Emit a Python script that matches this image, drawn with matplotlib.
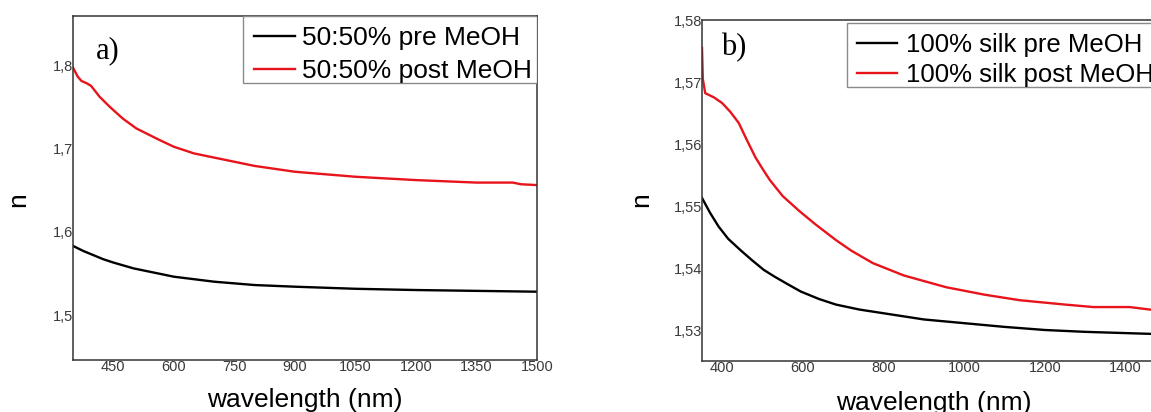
import matplotlib.pyplot as plt
import matplotlib.ticker as mtick
from matplotlib.patches import Rectangle

# panel a) 50:50% blend
wl_a_pre = [350, 375, 400, 425, 450, 500, 550, 600, 650, 700, 750, 800, 900, 1050,
            1200, 1350, 1500]
n_a_pre = [1.583, 1.577, 1.572, 1.567, 1.563, 1.556, 1.551, 1.546, 1.543, 1.540,
           1.538, 1.536, 1.534, 1.5315, 1.530, 1.529, 1.528]
wl_a_post = [350, 362, 371, 385, 395, 416, 441, 473, 507, 540, 565, 600, 650, 700,
             750, 800, 900, 1000, 1050, 1200, 1350, 1440, 1460, 1500]
n_a_post = [1.797, 1.786, 1.781, 1.778, 1.775, 1.762, 1.750, 1.736, 1.724, 1.716,
            1.710, 1.702, 1.694, 1.689, 1.684, 1.679, 1.672, 1.668, 1.666, 1.662,
            1.659, 1.659, 1.657, 1.656]

# panel b) 100% silk
wl_b_pre = [350, 370, 391, 415, 445, 475, 503, 530, 562, 595, 640, 682, 740, 800,
            900, 1000, 1100, 1200, 1300, 1400, 1500]
n_b_pre = [1.5513, 1.5489, 1.5467, 1.5447, 1.5429, 1.5412, 1.5397, 1.5386, 1.5374,
           1.5362, 1.5350, 1.5341, 1.5333, 1.5327, 1.5317, 1.5311, 1.5305, 1.5300,
           1.5297, 1.5295, 1.5293]
wl_b_post = [350, 352, 358, 380, 400, 420, 441, 460, 482, 500, 518, 550, 591, 630,
             682, 720, 773, 850, 955, 1050, 1138, 1250, 1320, 1410, 1472, 1500]
n_b_post = [1.5755, 1.5705, 1.5682, 1.5675, 1.5666, 1.5652, 1.5634, 1.5608, 1.5579,
            1.5560, 1.5542, 1.5516, 1.5492, 1.5471, 1.5445, 1.5428, 1.5408, 1.5388,
            1.5369, 1.5357, 1.5348, 1.5341, 1.5337, 1.5337, 1.5332, 1.5331]

xticks_a = [450, 600, 750, 900, 1050, 1200, 1350, 1500]
yticks_a = [1.5, 1.6, 1.7, 1.8]
xticks_b = [400, 600, 800, 1000, 1200, 1400]
yticks_b = [1.53, 1.54, 1.55, 1.56, 1.57, 1.58]

RED = '#e8141b'
plt.rcParams['font.family'] = 'Liberation Sans'

W, H = 1151, 412
fig = plt.figure(figsize=(W / 100, H / 100), dpi=100)


def px_axes(x0, y0, x1, y1):
    # pixel box (left, top, right, bottom) -> figure fraction
    return fig.add_axes([x0 / W, 1 - y1 / H, (x1 - x0) / W, (y1 - y0) / H])


def style(ax, xticks, yticks, ydec):
    for s in ax.spines.values():
        s.set_color('#333333')
        s.set_linewidth(1.1)
    ax.set_xticks(xticks)
    ax.set_yticks(yticks)
    ax.yaxis.set_major_formatter(
        mtick.FuncFormatter(lambda v, p: f'{v:.{ydec}f}'.replace('.', ',')))
    ax.tick_params(length=0, pad=0, labelsize=10.5, labelcolor='#3a3a3a')


def legend(ax, box, anchor, size, spacing, textpad):
    # frame drawn by hand: the original box has more side padding than top/bottom
    x0, y0, w, h = box
    ax.add_patch(Rectangle((x0, y0), w, h, transform=ax.transAxes, fill=True,
                           facecolor='white', edgecolor='#8a8a8a', lw=1.0, zorder=4))
    leg = ax.legend(loc='upper left', bbox_to_anchor=anchor, fontsize=size,
                    frameon=False, borderpad=0, borderaxespad=0,
                    labelspacing=spacing, handlelength=1.55, handletextpad=textpad)
    leg.set_zorder(5)


# ---- a)
ax1 = px_axes(73, 16, 537, 360)
ax1.plot(wl_a_pre, n_a_pre, color='black', lw=1.7, label='50:50% pre MeOH')
ax1.plot(wl_a_post, n_a_post, color=RED, lw=1.7, label='50:50% post MeOH')
ax1.set_xlim(350, 1500)
ax1.set_ylim(1.446, 1.859)
style(ax1, xticks_a, yticks_a, 1)
legend(ax1, (0.3655, 0.805, 0.6345, 0.195), (0.3894, 0.9698), 19, 0.33, 0.29)
ax1.text(0.05, 0.90, 'a)', transform=ax1.transAxes, family='Liberation Serif',
         fontsize=22, va='center', ha='left')
ax1.set_xlabel('wavelength (nm)', fontsize=19, va='baseline')
ax1.xaxis.set_label_coords(0.5, -0.136)
ax1.set_ylabel('n', fontsize=19, ha='center', va='center')
ax1.yaxis.set_label_coords(-0.1185, 0.465)

# ---- b)  (right edge of this panel runs past the figure)
ax2 = px_axes(702, 20, 1166, 361)
ax2.plot(wl_b_pre, n_b_pre, color='black', lw=1.7, label='100% silk pre MeOH')
ax2.plot(wl_b_post, n_b_post, color=RED, lw=1.7, label='100% silk post MeOH')
ax2.set_xlim(350, 1500)
ax2.set_ylim(1.525, 1.58)
style(ax2, xticks_b, yticks_b, 2)
legend(ax2, (0.3125, 0.8026, 0.6875, 0.1874), (0.3334, 0.9619), 18.5, 0.245, 0.37)
ax2.text(0.042, 0.918, 'b)', transform=ax2.transAxes, family='Liberation Serif',
         fontsize=22, va='center', ha='left')
ax2.set_xlabel('wavelength (nm)', fontsize=19, va='baseline')
ax2.xaxis.set_label_coords(0.5, -0.144)
ax2.set_ylabel('n', fontsize=19, ha='center', va='center')
ax2.yaxis.set_label_coords(-0.130, 0.472)

fig.savefig('out.png', dpi=100)
